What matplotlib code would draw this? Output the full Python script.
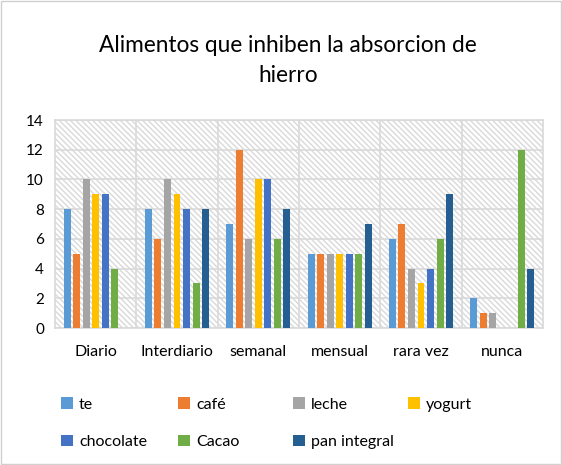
import matplotlib.pyplot as plt
import numpy as np
from matplotlib.patches import Rectangle

plt.rcParams['font.family'] = ['Lato', 'DejaVu Sans']

# data
categories = ['Diario', 'Interdiario', 'semanal', 'mensual', 'rara vez', 'nunca']
series = ['te', 'café', 'leche', 'yogurt', 'chocolate', 'Cacao', 'pan integral']
te = [8, 8, 7, 5, 6, 2]
cafe = [5, 6, 12, 5, 7, 1]
leche = [10, 10, 6, 5, 4, 1]
yogurt = [9, 9, 10, 5, 3, 0]
chocolate = [9, 8, 10, 5, 4, 0]
cacao = [4, 3, 6, 5, 6, 12]
pan_integral = [0, 8, 8, 7, 9, 4]
colors = ['#5B9BD5', '#ED7D31', '#A5A5A5', '#FFC000', '#4472C4', '#70AD47', '#255E91']

values = [te, cafe, leche, yogurt, chocolate, cacao, pan_integral]

fig = plt.figure(figsize=(5.62, 4.65), dpi=100)
ax = fig.add_axes([55 / 562, 1 - 328 / 465, 488 / 562, 208 / 465])

# hatched plot area background
bg = Rectangle((0, 0), 1, 1, transform=ax.transAxes, facecolor='white',
               edgecolor='#d9d9d9', linewidth=0, hatch='\\\\\\\\\\\\', zorder=0)
ax.add_patch(bg)

x = np.arange(len(categories))
step = 0.117
width = 0.086
handles = []
for i, (name, vals) in enumerate(zip(series, values)):
    b = ax.bar(x + (i - 3) * step, vals, width, color=colors[i], label=name, zorder=3)
    handles.append(b)

ax.set_xlim(-0.5, len(categories) - 0.5)
ax.set_ylim(0, 14)
ax.set_yticks(range(0, 15, 2))
ax.set_xticks(x)
ax.set_xticklabels(categories, fontsize=11.5)
ax.tick_params(axis='y', labelsize=11, length=0, pad=8)
ax.tick_params(axis='x', length=0, pad=12)
ax.yaxis.grid(True, color='#d9d9d9', linewidth=1.2, zorder=1)
for xv in np.arange(0.5, len(categories) - 0.5, 1):
    ax.axvline(xv, color='#d9d9d9', linewidth=1.2, zorder=1)
for s in ax.spines.values():
    s.set_color('#d9d9d9')
    s.set_linewidth(1.2)

fig.text(0.512, 1 - 46 / 465, 'Alimentos que inhiben la absorcion de', ha='center',
         va='center', fontsize=16.3, color='#000000')
fig.text(0.512, 1 - 76 / 465, 'hierro', ha='center', va='center', fontsize=16.3)

# legend, one column at a time
cols = [[0, 4], [1, 5], [2, 6], [3]]
col_x = [55, 172, 287, 402]
for c, xp in zip(cols, col_x):
    leg = fig.legend([handles[k] for k in c], [series[k] for k in c],
                     loc='upper left', bbox_to_anchor=(xp / 562, 1 - 391 / 465),
                     frameon=False, fontsize=11.5, handlelength=0.7, handleheight=0.7,
                     handletextpad=0.4, labelspacing=1.45, borderaxespad=0)

fig.patches.append(Rectangle((0.002, 0.002), 0.996, 0.996, transform=fig.transFigure,
                             fill=False, edgecolor='#d0d0d0', linewidth=1))

fig.savefig('out.png', dpi=100)
